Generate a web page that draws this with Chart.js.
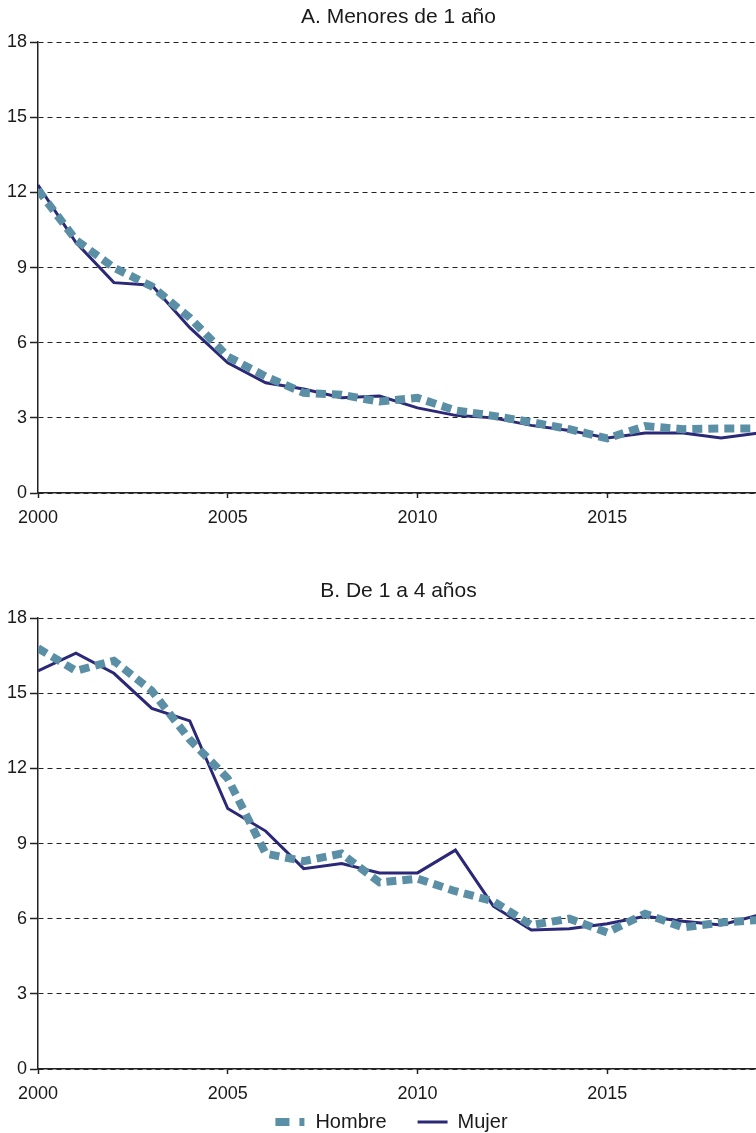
<!DOCTYPE html>
<html>
<head>
<meta charset="utf-8">
<script src="https://cdn.jsdelivr.net/npm/chart.js@4/dist/chart.umd.min.js"></script>
<style>
  body { margin: 0; overflow: hidden; background: #fff; }
  canvas { display: block; }
</style>
</head>
<body>
<canvas id="chartA" width="759" height="535"></canvas>
<canvas id="chartB" width="759" height="607"></canvas>
<script>
// Data
var years = [2000, 2001, 2002, 2003, 2004, 2005, 2006, 2007, 2008, 2009, 2010, 2011, 2012, 2013, 2014, 2015, 2016, 2017, 2018, 2019];
var hombreA = [12.1, 10.1, 9.0, 8.25, 7.0, 5.45, 4.65, 4.0, 3.92, 3.65, 3.8, 3.3, 3.08, 2.83, 2.55, 2.18, 2.67, 2.55, 2.58, 2.58];
var mujerA = [12.3, 10.0, 8.4, 8.3, 6.6, 5.2, 4.4, 4.15, 3.8, 3.87, 3.4, 3.1, 3.0, 2.7, 2.5, 2.2, 2.4, 2.4, 2.2, 2.4];
var hombreB = [16.8, 15.9, 16.3, 15.1, 13.15, 11.6, 8.6, 8.3, 8.6, 7.45, 7.6, 7.1, 6.7, 5.75, 6.0, 5.45, 6.2, 5.65, 5.85, 5.95];
var mujerB = [15.9, 16.6, 15.8, 14.4, 13.9, 10.4, 9.5, 8.0, 8.2, 7.83, 7.83, 8.74, 6.5, 5.55, 5.6, 5.8, 6.1, 5.9, 5.75, 6.15];
var seriesNames = ['Hombre', 'Mujer'];
var titleA = 'A. Menores de 1 año';
var titleB = 'B. De 1 a 4 años';
var yTicks = [0, 3, 6, 9, 12, 15, 18];
var xTicks = [2000, 2005, 2010, 2015];

var fontFamily = "'Liberation Sans', Arial, sans-serif";
var hombreColor = '#5a8fa6';
var mujerColor = '#2b2877';

function toPoints(vals) {
  var pts = [];
  for (var i = 0; i < years.length; i++) {
    pts.push({ x: years[i], y: vals[i] });
  }
  return pts;
}

// legend symbols sit in a 54px box, the dash offset leaves
// the left 24px empty so the items get a wider gap
function legendLabels(chart) {
  var items = Chart.defaults.plugins.legend.labels.generateLabels(chart);
  items.forEach(function (it, i) {
    it.pointStyle = 'line';
    it.lineCap = 'butt';
    if (i === 0) {
      it.lineWidth = 8;
      it.lineDash = [14, 10, 5, 25];
      it.lineDashOffset = 30;
    } else {
      it.lineWidth = 3;
      it.lineDash = [30, 24];
      it.lineDashOffset = 30;
    }
  });
  return items;
}

function makeChart(id, title, hombre, mujer, showLegend, titlePad, xHeight) {
  var ctx = document.getElementById(id).getContext('2d');
  return new Chart(ctx, {
    type: 'line',
    data: {
      datasets: [
        {
          label: seriesNames[0],
          data: toPoints(hombre),
          borderColor: hombreColor,
          backgroundColor: hombreColor,
          borderWidth: 8,
          borderDash: [10, 6],
          borderCapStyle: 'butt',
          pointRadius: 0,
          tension: 0
        },
        {
          label: seriesNames[1],
          data: toPoints(mujer),
          borderColor: mujerColor,
          backgroundColor: mujerColor,
          borderWidth: 3,
          pointRadius: 0,
          tension: 0
        }
      ]
    },
    options: {
      responsive: false,
      animation: false,
      devicePixelRatio: 1,
      layout: { padding: 0 },
      plugins: {
        title: {
          display: true,
          text: title,
          fullSize: false,
          color: '#1a1a1a',
          font: { family: fontFamily, size: 21, weight: 'normal' },
          padding: titlePad
        },
        legend: {
          display: showLegend,
          position: 'bottom',
          fullSize: true,
          labels: {
            usePointStyle: true,
            pointStyleWidth: 54,
            padding: 7,
            color: '#1a1a1a',
            font: { family: fontFamily, size: 20 },
            generateLabels: legendLabels
          }
        },
        tooltip: { enabled: false }
      },
      scales: {
        x: {
          type: 'linear',
          min: years[0],
          max: years[years.length - 1],
          afterFit: function (scale) { scale.height = xHeight; },
          afterBuildTicks: function (scale) {
            scale.ticks = xTicks.map(function (v) { return { value: v }; });
          },
          ticks: {
            callback: function (v) { return String(v); },
            color: '#1a1a1a',
            padding: 9,
            maxRotation: 0,
            font: { family: fontFamily, size: 18 }
          },
          grid: {
            drawOnChartArea: false,
            drawTicks: true,
            tickLength: 5,
            tickColor: '#222',
            tickWidth: 1.5,
            tickBorderDash: []
          },
          border: { display: true, color: '#222', width: 1.5 }
        },
        y: {
          min: yTicks[0],
          max: yTicks[yTicks.length - 1],
          afterFit: function (scale) { scale.width = 38; },
          afterBuildTicks: function (scale) {
            scale.ticks = yTicks.map(function (v) { return { value: v }; });
          },
          ticks: {
            color: '#1a1a1a',
            padding: 3,
            font: { family: fontFamily, size: 18 }
          },
          grid: {
            color: '#222',
            lineWidth: 1,
            drawTicks: true,
            tickLength: 8,
            tickColor: '#222',
            tickWidth: 1.5,
            tickBorderDash: []
          },
          border: { display: true, color: '#222', width: 1.5, dash: [5, 4] }
        }
      }
    }
  });
}

makeChart('chartA', titleA, hombreA, mujerA, false, { top: 5, bottom: 12 }, 42);
makeChart('chartB', titleB, hombreB, mujerB, true, { top: 44, bottom: 14 }, 36);
</script>
</body>
</html>
